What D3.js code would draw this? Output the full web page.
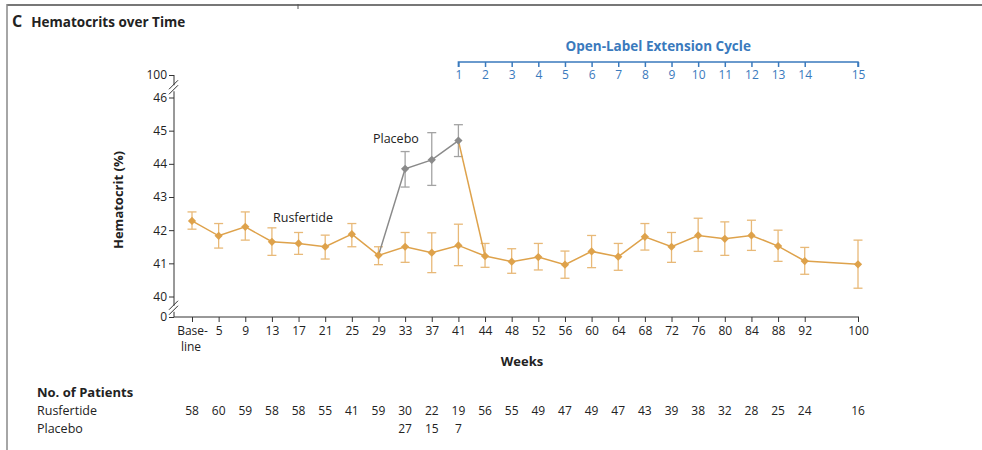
<!DOCTYPE html>
<html>
<head>
<meta charset="utf-8">
<script src="https://cdn.jsdelivr.net/npm/d3@7"></script>
<style>
  html, body { margin: 0; padding: 0; background: #fff; }
  svg { display: block; font-family: "Open Sans", "Lato", sans-serif; }
</style>
</head>
<body>
<svg id="chart" width="982" height="450"></svg>
<script>
// ---------- DATA ----------
const weekLabels = ["Baseline","5","9","13","17","21","25","29","33","37","41","44","48","52","56","60","64","68","72","76","80","84","88","92","100"];
const slotIndex  = [0,1,2,3,4,5,6,7,8,9,10,11,12,13,14,15,16,17,18,19,20,21,22,23,25];

const rusMean  = [42.28,41.83,42.10,41.65,41.60,41.50,41.88,41.24,41.50,41.32,41.54,41.22,41.05,41.19,40.96,41.36,41.20,41.80,41.50,41.84,41.74,41.84,41.52,41.07,40.97];
const rusUpper = [42.55,42.20,42.55,42.07,41.93,41.85,42.20,41.50,41.93,41.92,42.18,41.60,41.44,41.60,41.37,41.84,41.60,42.20,41.93,42.36,42.25,42.30,42.00,41.48,41.70];
const rusLower = [42.03,41.46,41.70,41.24,41.27,41.13,41.50,40.96,41.03,40.72,40.93,40.88,40.70,40.80,40.55,40.87,40.79,41.40,41.03,41.36,41.24,41.39,41.06,40.67,40.25];

const placeboWeeks = ["33","37","41"];
const placeboMean  = [43.85,44.12,44.70];
const placeboUpper = [44.37,44.94,45.18];
const placeboLower = [43.30,43.35,44.22];

const yTicks = [0,40,41,42,43,44,45,46,100];

const cycleLabels = ["1","2","3","4","5","6","7","8","9","10","11","12","13","14","15"];
const cycleWeeks  = ["41","44","48","52","56","60","64","68","72","76","80","84","88","92","100"];

const nRus     = [58,60,59,58,58,55,41,59,30,22,19,56,55,49,47,49,47,43,39,38,32,28,25,24,16];
const nPlacebo = [27,15,7];

// ---------- SETUP ----------
const svg = d3.select("#chart");
const orange = "#dea24b", orangeBar = "#e8b978", gray = "#8a8a8a", blue = "#3a7abd", text = "#222";

const slotOf = w => slotIndex[weekLabels.indexOf(w)];
const x = d3.scaleLinear().domain([0, 25]).range([192, 858]);
const y = d3.scaleLinear().domain([0, 40, 46, 100]).range([317, 296.5, 97.5, 75]);

// frame
svg.append("line").attr("x1", 7).attr("x2", 982).attr("y1", 5).attr("y2", 5)
  .attr("stroke", "#777").attr("stroke-width", 2);
svg.append("line").attr("x1", 7).attr("x2", 7).attr("y1", 4).attr("y2", 450)
  .attr("stroke", "#888").attr("stroke-width", 1.5);
svg.append("line").attr("x1", 298).attr("x2", 298).attr("y1", 4).attr("y2", 9)
  .attr("stroke", "#555").attr("stroke-width", 1);

// title
const title = svg.append("text").attr("x", 12).attr("y", 27).attr("font-weight", 700).attr("fill", text);
title.append("tspan").attr("font-size", 16).text("C");
title.append("tspan").attr("dx", 9).attr("font-size", 13.5).text("Hematocrits over Time");

// ---------- Y AXIS ----------
const yAxis = d3.axisLeft(y).tickValues(yTicks).tickSize(5).tickPadding(2).tickFormat(d3.format("d"));
const gy = svg.append("g").attr("transform", "translate(174,0)").call(yAxis);
gy.select(".domain").attr("stroke", "#333").attr("d", `M-0,${y(100)}V${y(0)}`);
gy.selectAll(".tick line").attr("stroke", "#333");
gy.selectAll(".tick text").attr("font-size", 12).attr("fill", text).attr("font-family", "Open Sans, sans-serif");

// axis breaks
function brk(yc) {
  const g = svg.append("g").attr("transform", `translate(174,${yc})`);
  g.append("rect").attr("x", -3).attr("y", -3).attr("width", 6).attr("height", 6).attr("fill", "#fff");
  g.append("line").attr("x1", -5).attr("y1", 1).attr("x2", 4).attr("y2", -8).attr("stroke", "#333");
  g.append("line").attr("x1", -5).attr("y1", 6).attr("x2", 4).attr("y2", -3).attr("stroke", "#333");
}
brk((y(100) + y(46)) / 2 + 2);
brk((y(40) + y(0)) / 2 + 2);

// y label
svg.append("text").attr("transform", `translate(123,${(y(46) + y(40)) / 2 + 3}) rotate(-90)`)
  .attr("text-anchor", "middle").attr("font-size", 13).attr("font-weight", 700).attr("fill", text)
  .text("Hematocrit (%)");

// ---------- X AXIS ----------
const xAxis = d3.axisBottom(x).tickValues(slotIndex).tickSize(5).tickPadding(4)
  .tickFormat(v => { const l = weekLabels[slotIndex.indexOf(v)]; return l === "Baseline" ? "Base-" : l; });
const gx = svg.append("g").attr("transform", `translate(0,${y(0)})`).call(xAxis);
gx.select(".domain").attr("stroke", "#333").attr("d", `M174,0H${x(25) + 1}`);
gx.selectAll(".tick line").attr("stroke", "#333");
gx.selectAll(".tick text").attr("font-size", 12).attr("fill", text).attr("font-family", "Open Sans, sans-serif");
// second line of the "Baseline" label
svg.append("text").attr("x", x(0) - 1).attr("y", y(0) + 34).attr("text-anchor", "middle")
  .attr("font-size", 12).attr("fill", text).text("line");
svg.append("text").attr("x", 522).attr("y", 366).attr("text-anchor", "middle")
  .attr("font-size", 13).attr("font-weight", 700).attr("fill", text).text("Weeks");

// ---------- EXTENSION CYCLE AXIS ----------
const cyc = svg.append("g").attr("transform", "translate(0,62)");
cyc.call(d3.axisBottom(x).tickValues(cycleWeeks.map(slotOf)).tickSize(5).tickPadding(3)
  .tickFormat(v => cycleLabels[cycleWeeks.map(slotOf).indexOf(v)]));
cyc.select(".domain").attr("stroke", blue).attr("stroke-width", 1.5)
  .attr("d", `M${x(slotOf("41"))},5V0H${x(25)}V5`);
cyc.selectAll(".tick line").attr("stroke", blue).attr("stroke-width", 1.5);
cyc.selectAll(".tick text").attr("fill", blue).attr("font-size", 12).attr("font-family", "Open Sans, sans-serif");
svg.append("text").attr("x", (x(slotOf("41")) + x(25)) / 2).attr("y", 51).attr("text-anchor", "middle")
  .attr("font-size", 13.5).attr("font-weight", 700).attr("fill", blue).text("Open-Label Extension Cycle");

// ---------- SERIES ----------
const rus = weekLabels.map((w, i) => ({ s: slotIndex[i], m: rusMean[i], u: rusUpper[i], l: rusLower[i] }));
const plc = placeboWeeks.map((w, i) => ({ s: slotOf(w), m: placeboMean[i], u: placeboUpper[i], l: placeboLower[i] }));
const line = d3.line().x(d => x(d.s)).y(d => y(d.m));

function errorBars(data, color) {
  const g = svg.append("g").attr("stroke", color).attr("stroke-width", 1.3).attr("fill", "none");
  data.forEach(d => {
    g.append("line").attr("x1", x(d.s)).attr("x2", x(d.s)).attr("y1", y(d.u)).attr("y2", y(d.l));
    g.append("line").attr("x1", x(d.s) - 4.5).attr("x2", x(d.s) + 4.5).attr("y1", y(d.u)).attr("y2", y(d.u));
    g.append("line").attr("x1", x(d.s) - 4.5).attr("x2", x(d.s) + 4.5).attr("y1", y(d.l)).attr("y2", y(d.l));
  });
}
errorBars(rus, orangeBar);
errorBars(plc, "#a3a3a3");

const i29 = weekLabels.indexOf("29"), i44 = weekLabels.indexOf("44");
svg.append("path").datum([rus[i29], ...plc]).attr("d", line)
  .attr("fill", "none").attr("stroke", gray).attr("stroke-width", 1.5);
svg.append("path").datum([plc[plc.length - 1], rus[i44]]).attr("d", line)
  .attr("fill", "none").attr("stroke", orange).attr("stroke-width", 1.5);
svg.append("path").datum(rus).attr("d", line)
  .attr("fill", "none").attr("stroke", orange).attr("stroke-width", 1.5);

const sym = d3.symbol().type(d3.symbolSquare).size(34);
function markers(data, color) {
  svg.append("g").selectAll("path").data(data).join("path")
    .attr("d", sym).attr("fill", color)
    .attr("transform", d => `translate(${x(d.s)},${y(d.m)}) rotate(45)`);
}
markers(rus, orange);
markers(plc, gray);

svg.append("text").attr("x", 273).attr("y", 222).attr("font-size", 12.5).attr("fill", text).text("Rusfertide");
svg.append("text").attr("x", 373).attr("y", 143).attr("font-size", 12.5).attr("fill", text).text("Placebo");

// ---------- PATIENT TABLE ----------
svg.append("text").attr("x", 37).attr("y", 397).attr("font-size", 13).attr("font-weight", 700).attr("fill", text).text("No. of Patients");
svg.append("text").attr("x", 37).attr("y", 415).attr("font-size", 12.5).attr("fill", text).text("Rusfertide");
svg.append("text").attr("x", 37).attr("y", 433).attr("font-size", 12.5).attr("fill", text).text("Placebo");
svg.append("g").selectAll("text").data(nRus).join("text")
  .attr("x", (d, i) => x(slotIndex[i])).attr("y", 415).attr("text-anchor", "middle")
  .attr("font-size", 12).attr("fill", text).text(d => d);
svg.append("g").selectAll("text").data(nPlacebo).join("text")
  .attr("x", (d, i) => x(slotOf(placeboWeeks[i]))).attr("y", 433).attr("text-anchor", "middle")
  .attr("font-size", 12).attr("fill", text).text(d => d);
</script>
</body>
</html>
